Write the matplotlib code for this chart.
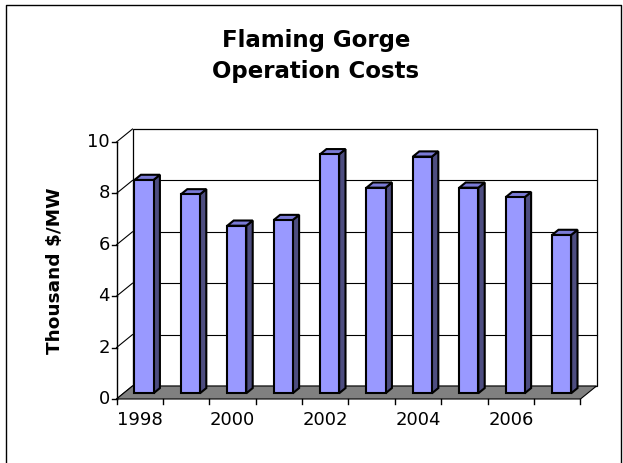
import matplotlib
matplotlib.use("Agg")
import matplotlib.pyplot as plt
from matplotlib.patches import Polygon
from matplotlib.lines import Line2D

# ---- data ----
years = [1998, 1999, 2000, 2001, 2002, 2003, 2004, 2005, 2006, 2007]
costs = [8.3, 7.74, 6.52, 6.74, 9.3, 8.0, 9.21, 8.0, 7.63, 6.16]
y_ticks = [0, 2, 4, 6, 8, 10]
x_labels = ["1998", "", "2000", "", "2002", "", "2004", "", "2006", ""]
title = "Flaming Gorge\nOperation Costs"
ylabel = "Thousand $/MW"

# ---- layout (pixels) ----
W, H = 623, 463
X0, CW = 116.5, 46.4      # front x-axis start, pixels per category
Y0, VH = 399.0, 25.7      # front y=0 (from top), pixels per unit
DXP, DYP = 16.0, 13.0     # depth vector in pixels
DX, DY = DXP / CW, DYP / VH
BOFF, BW = 0.236, 0.41
D0, D1 = 0.44, 0.84

front_c = "#9999FF"
top_c = "#7B7BD6"
side_c = "#4D4D80"
floor_c = "#808080"

fig = plt.figure(figsize=(W / 100, H / 100), dpi=100)
ax = fig.add_axes([0, 0, 1, 1])
ax.set_xlim(-X0 / CW, (W - X0) / CW)
ax.set_ylim((Y0 - H) / VH, Y0 / VH)
ax.axis("off")


def P(x, y, d):
    return (x + d * DX, y + d * DY)


n = len(years)
ymax = y_ticks[-1]

# back wall
ax.add_patch(Polygon([P(0, 0, 1), P(n, 0, 1), P(n, ymax, 1), P(0, ymax, 1)],
                     closed=True, facecolor="white", edgecolor="black", lw=0.9, zorder=1))
# back wall gridlines
for t in y_ticks[1:-1]:
    a, b = P(0, t, 1), P(n, t, 1)
    ax.add_line(Line2D([a[0], b[0]], [a[1], b[1]], color="black", lw=0.8, zorder=1.5))
# side wall diagonals
for t in y_ticks:
    a, b = P(0, t, 0), P(0, t, 1)
    ax.add_line(Line2D([a[0], b[0]], [a[1], b[1]], color="black", lw=0.8, zorder=1.5))
# floor
ax.add_patch(Polygon([P(0, 0, 0), P(n, 0, 0), P(n, 0, 1), P(0, 0, 1)],
                     closed=True, facecolor=floor_c, edgecolor="black", lw=0.8, zorder=2))
# front y axis
ax.add_line(Line2D([0, 0], [0, ymax], color="black", lw=1.0, zorder=2))
tick_dx = 5 / CW
tick_dy = 5 / VH
for t in y_ticks:
    ax.add_line(Line2D([-tick_dx, 0], [t, t], color="black", lw=1.0, zorder=2))
    ax.text(-6.5 / CW, t, str(t), ha="right", va="center", fontsize=13, zorder=3)
# x ticks
for i in range(n + 1):
    ax.add_line(Line2D([i, i], [0, -tick_dy], color="black", lw=1.0, zorder=2))
for i, lab in enumerate(x_labels):
    if lab:
        ax.text(i + 0.5, -21 / VH, lab, ha="center", va="center", fontsize=13, zorder=3)

# bars
for i, v in enumerate(costs):
    x0 = i + BOFF
    x1 = x0 + BW
    side = [P(x1, 0, D0), P(x1, 0, D1), P(x1, v, D1), P(x1, v, D0)]
    top = [P(x0, v, D0), P(x1, v, D0), P(x1, v, D1), P(x0, v, D1)]
    front = [P(x0, 0, D0), P(x1, 0, D0), P(x1, v, D0), P(x0, v, D0)]
    for poly, c in ((side, side_c), (top, top_c), (front, front_c)):
        ax.add_patch(Polygon(poly, closed=True, facecolor=c, edgecolor="black",
                             lw=1.5, joinstyle="miter", zorder=4))

# titles
fig.text(316 / W, 1 - 56 / H, title, ha="center", va="center",
         fontsize=16.5, fontweight="bold", linespacing=1.42)
fig.text(55 / W, 1 - 271 / H, ylabel, rotation=90, ha="center", va="center",
         fontsize=13.3, fontweight="bold")

# outer frame (left, top, right)
fx = [5.5 / W, 5.5 / W, 620.5 / W, 620.5 / W]
fy = [0, 1 - 4.5 / H, 1 - 4.5 / H, 0]
fig.add_artist(Line2D(fx, fy, transform=fig.transFigure, color="black", lw=1.0))

fig.savefig("out.png", dpi=100)
